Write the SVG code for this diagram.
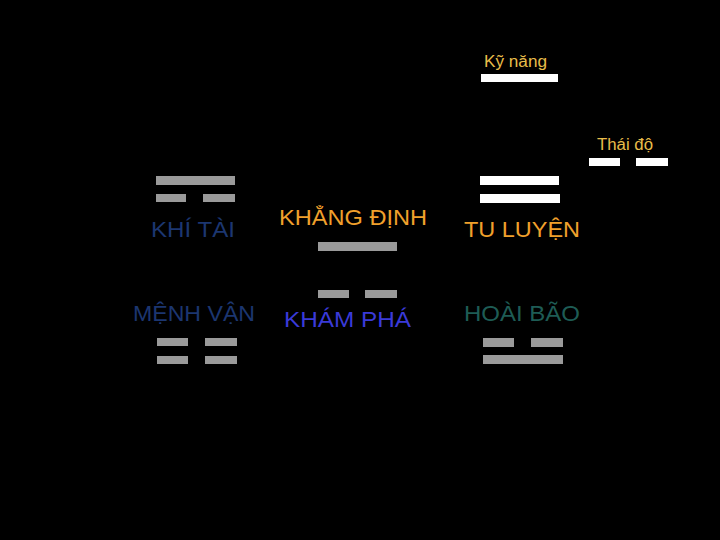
<svg xmlns="http://www.w3.org/2000/svg" width="720" height="540" viewBox="0 0 720 540">
<style>
.g{fill:#9a9a9a}
.w{fill:#ffffff}
.t{font-family:"Liberation Sans",Arial,sans-serif;font-size:22px}
.s{font-family:"Liberation Sans",Arial,sans-serif;font-size:16px;fill:#e8bd4a}
.or{fill:#f0a02c}
.db{fill:#1c3670}
.bl{fill:#3a3ad8}
.te{fill:#1e5c55}
</style>
<rect width="720" height="540" fill="#000"/>
<g id="ky-nang">
<text class="s" x="484" y="67" textLength="63" lengthAdjust="spacingAndGlyphs">Kỹ năng</text>
<rect class="w" x="481" y="74" width="77" height="8"/>
</g>
<g id="thai-do">
<text class="s" x="597" y="150" textLength="56" lengthAdjust="spacingAndGlyphs">Thái độ</text>
<rect class="w" x="589" y="158" width="31" height="8"/>
<rect class="w" x="636" y="158" width="32" height="8"/>
</g>
<g id="tu-luyen">
<rect class="w" x="480" y="176" width="79" height="9"/>
<rect class="w" x="480" y="194" width="80" height="9"/>
<text class="t or" x="464" y="237" textLength="116" lengthAdjust="spacingAndGlyphs">TU LUYỆN</text>
</g>
<g id="khi-tai">
<rect class="g" x="156" y="176" width="79" height="9"/>
<rect class="g" x="156" y="194" width="30" height="8"/>
<rect class="g" x="203" y="194" width="32" height="8"/>
<text class="t db" x="151" y="237" textLength="84" lengthAdjust="spacingAndGlyphs">KHÍ TÀI</text>
</g>
<g id="khang-dinh">
<text class="t or" x="279" y="225" textLength="148" lengthAdjust="spacingAndGlyphs">KHẲNG ĐỊNH</text>
<rect class="g" x="318" y="242" width="79" height="9"/>
</g>
<g id="kham-pha">
<rect class="g" x="318" y="290" width="31" height="8"/>
<rect class="g" x="365" y="290" width="32" height="8"/>
<text class="t bl" x="284" y="327" textLength="127" lengthAdjust="spacingAndGlyphs">KHÁM PHÁ</text>
</g>
<g id="menh-van">
<text class="t db" x="133" y="321" textLength="122" lengthAdjust="spacingAndGlyphs">MỆNH VẬN</text>
<rect class="g" x="157" y="338" width="31" height="8"/>
<rect class="g" x="205" y="338" width="32" height="8"/>
<rect class="g" x="157" y="356" width="31" height="8"/>
<rect class="g" x="205" y="356" width="32" height="8"/>
</g>
<g id="hoai-bao">
<text class="t te" x="464" y="321" textLength="116" lengthAdjust="spacingAndGlyphs">HOÀI BÃO</text>
<rect class="g" x="483" y="338" width="31" height="9"/>
<rect class="g" x="531" y="338" width="32" height="9"/>
<rect class="g" x="483" y="355" width="80" height="9"/>
</g>
<g id="connectors"></g>
</svg>
